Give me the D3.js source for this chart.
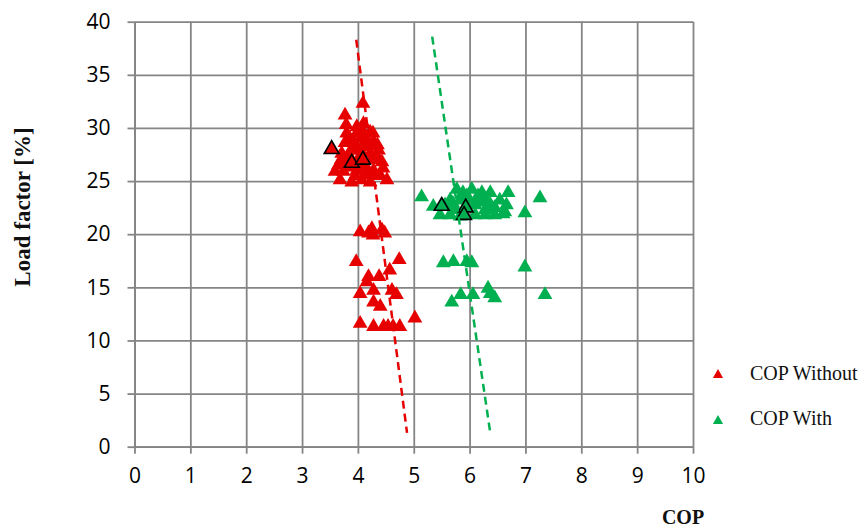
<!DOCTYPE html>
<html>
<head>
  <meta http-equiv="Content-Type" content="text/html; charset=UTF-8" />
  <title>COP vs load factor</title>
  <style>
    body { padding: 0; margin: 0; background: #fff; }
    .grid line, .grid path { stroke: #858585; stroke-width: 1.8; }
    .axis path { display: none; }
    .axis line { stroke: #858585; stroke-width: 1.8; }
  </style>
</head>
<body>
<svg width="865" height="528"></svg>

<script src="https://d3js.org/d3.v7.min.js"></script>
<script>

// COP without (red) : [COP, load factor %]
var copWithout = [
  [4.09, 32.3], [3.77, 31.2], [3.79, 30.3], [4.10, 30.4], [3.98, 30.1],
  [4.22, 29.6], [3.98, 29.5], [3.80, 29.5], [4.27, 29.5], [4.10, 29.6],
  [3.92, 28.7], [4.16, 28.9], [4.28, 28.7], [3.77, 28.6], [4.37, 27.9],
  [4.04, 27.9], [3.92, 27.9], [3.71, 27.6], [3.83, 27.5], [4.22, 27.6],
  [4.34, 27.3], [4.43, 26.8], [3.65, 26.5], [3.59, 25.9], [3.74, 25.9],
  [3.98, 26.0], [4.16, 26.2], [4.28, 26.0], [4.45, 26.2], [3.68, 25.1],
  [3.89, 24.9], [4.07, 25.1], [4.22, 24.9], [4.52, 25.1], [4.40, 25.5],
  [3.86, 26.3], [4.00, 27.0], [4.12, 28.2], [3.95, 28.4], [4.25, 27.0],
  [3.85, 29.0], [4.05, 29.0], [4.20, 28.3], [3.80, 26.9], [4.30, 25.5],
  [3.95, 25.5], [4.15, 25.6], [3.70, 27.0], [4.02, 26.5], [4.35, 28.4],
  [4.04, 20.2], [4.25, 20.5], [4.27, 19.9], [4.43, 20.4], [4.48, 20.1],
  [4.19, 20.1], [3.97, 17.4], [4.74, 17.6], [4.57, 16.6], [4.19, 16.0],
  [4.38, 16.0], [4.16, 15.5], [4.04, 14.4], [4.28, 14.7], [4.61, 14.7],
  [4.69, 14.3], [4.28, 13.6], [4.40, 13.2], [4.04, 11.6], [5.02, 12.1],
  [4.28, 11.3], [4.46, 11.3], [4.54, 11.3], [4.63, 11.3], [4.75, 11.3]
]
// highlighted (black outlined) points
var copWithoutMarked = [[3.53, 28.0], [3.89, 26.7], [4.09, 27.0]]

// COP with (green)
var copWith = [
  [5.14, 23.5], [5.35, 22.6], [5.77, 24.2], [5.88, 23.9], [6.04, 24.2],
  [6.22, 23.9], [6.37, 23.9], [6.54, 23.2], [5.65, 23.2], [5.56, 22.75],
  [5.74, 22.3], [6.10, 22.75], [6.28, 22.3], [6.45, 22.5], [6.63, 22.1],
  [5.83, 23.2], [6.00, 23.2], [6.19, 23.0], [6.37, 22.8], [5.47, 21.8],
  [5.65, 21.8], [5.83, 21.7], [6.10, 21.8], [6.28, 21.8], [6.45, 21.8],
  [6.60, 21.9], [6.69, 23.9], [6.66, 22.75], [6.99, 22.0], [7.26, 23.4],
  [5.95, 23.6], [6.15, 23.6], [6.30, 23.2], [5.70, 22.9],
  [5.53, 17.3], [5.71, 17.4], [5.95, 17.4], [6.04, 17.3], [6.99, 16.9],
  [6.33, 14.9], [6.37, 14.4], [6.45, 14.0], [5.84, 14.3], [6.06, 14.3],
  [5.68, 13.6], [7.35, 14.3]
]
var copWithMarked = [[5.50, 22.65], [5.93, 22.5], [5.90, 21.8]]

// trend lines (end points)
var trendWithout = [[3.97, 38.3], [4.88, 1.3]]
var trendWith = [[5.33, 38.6], [6.37, 1.3]]

var xTicks = d3.range(0, 11, 1)
var yTicks = d3.range(0, 45, 5)

var red = "#e60000"
var green = "#00b050"

var svg = d3.select("svg")

var x = d3.scaleLinear().domain([0, 10]).range([134.5, 693])
var y = d3.scaleLinear().domain([0, 40]).range([446.7, 21.7])

// grid
svg.append("g").attr("class", "grid")
  .attr("transform", "translate(0," + y(0) + ")")
  .call(d3.axisBottom(x).tickValues(xTicks).tickSize(-(y(0) - y(40))).tickSizeOuter(0).tickFormat(""))
svg.append("g").attr("class", "grid")
  .attr("transform", "translate(" + x(0) + ",0)")
  .call(d3.axisLeft(y).tickValues(yTicks).tickSize(-(x(10) - x(0))).tickSizeOuter(0).tickFormat(""))

// axes with outside ticks
svg.append("g").attr("class", "axis")
  .attr("transform", "translate(0," + y(0) + ")")
  .call(d3.axisBottom(x).tickValues(xTicks).tickSize(7).tickPadding(14))
svg.append("g").attr("class", "axis")
  .attr("transform", "translate(" + x(0) + ",0)")
  .call(d3.axisLeft(y).tickValues(yTicks).tickSize(7).tickPadding(17))

svg.selectAll(".axis text")
  .attr("font-family", "'Open Sans', sans-serif")
  .attr("font-size", 21)
  .attr("fill", "#000")

var tri = d3.symbol().type(d3.symbolTriangle).size(95)

function drawPoints(data, color, stroke) {
  svg.append("g")
    .selectAll("path")
    .data(data)
    .enter()
    .append("path")
    .attr("d", tri)
    .attr("transform", d => "translate(" + x(d[0]) + "," + y(d[1]) + ")")
    .style("fill", color)
    .style("stroke", stroke || "none")
    .style("stroke-width", 1.6)
}

drawPoints(copWithout, red)
drawPoints(copWith, green)
drawPoints(copWithoutMarked, red, "#000")
drawPoints(copWithMarked, green, "#000")

var line = d3.line().x(d => x(d[0])).y(d => y(d[1]))

svg.append("path").datum(trendWithout).attr("d", line)
  .style("fill", "none").style("stroke", red).style("stroke-width", 2.5).style("stroke-dasharray", "8,5")
svg.append("path").datum(trendWith).attr("d", line)
  .style("fill", "none").style("stroke", green).style("stroke-width", 2.5).style("stroke-dasharray", "8,5")

// axis titles
svg.append("text")
  .attr("transform", "translate(30,207) rotate(-90)")
  .style("text-anchor", "middle")
  .style("font-family", "'Liberation Serif', serif")
  .style("font-weight", "bold")
  .style("font-size", "23px")
  .style("fill", "#111")
  .text("Load factor [%]")

svg.append("text")
  .attr("x", 683).attr("y", 524)
  .style("text-anchor", "middle")
  .style("font-family", "'Liberation Serif', serif")
  .style("font-weight", "bold")
  .style("font-size", "20px")
  .style("fill", "#111")
  .text("COP")

// legend
var legend = [["COP Without", red], ["COP With", green]]
var lg = svg.append("g")
lg.selectAll("path")
  .data(legend)
  .enter()
  .append("path")
  .attr("d", d3.symbol().type(d3.symbolTriangle).size(45))
  .attr("transform", (d, i) => "translate(718," + (375 + i * 46) + ")")
  .style("fill", d => d[1])
lg.selectAll("text")
  .data(legend)
  .enter()
  .append("text")
  .attr("x", 750)
  .attr("y", (d, i) => 380 + i * 45)
  .style("font-family", "'Liberation Serif', serif")
  .style("font-size", "20px")
  .style("fill", "#111")
  .text(d => d[0])

</script>
</body>
</html>
